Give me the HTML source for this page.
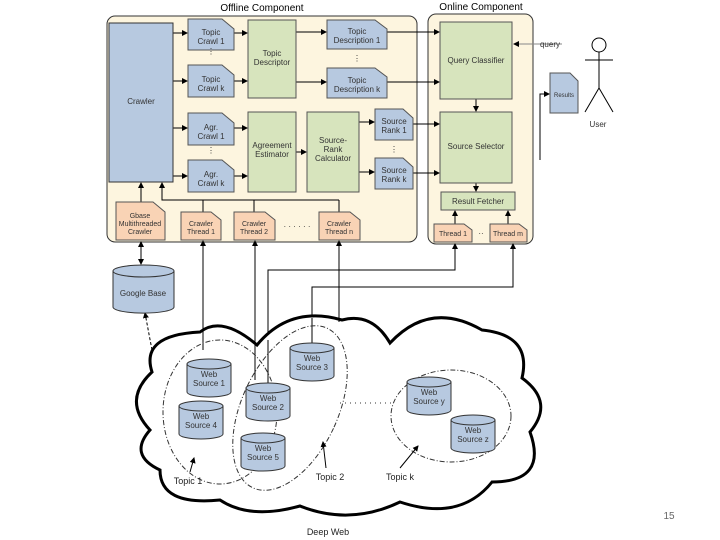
<!DOCTYPE html>
<html><head><meta charset="utf-8"><style>
body{margin:0;background:#fff}
svg{display:block;font-family:"Liberation Sans",sans-serif}
</style></head><body>
<svg width="720" height="540" viewBox="0 0 720 540" xmlns="http://www.w3.org/2000/svg">
<defs>
<marker id="a" markerWidth="6" markerHeight="6" refX="5" refY="3" orient="auto"><path d="M0,0 L6,3 L0,6z" fill="#000"/></marker>
<g id="cyl"><path d="M0,5 v28 a22,5 0 0 0 44,0 v-28" fill="#b7c9e0" stroke="#333"/><ellipse cx="22" cy="5" rx="22" ry="5" fill="#b7c9e0" stroke="#333"/></g>
</defs>
<text x="262" y="11" font-size="10" text-anchor="middle">Offline Component</text>
<rect x="107" y="16" width="310" height="226" rx="8" fill="#fdf5df" stroke="#333"/>
<text x="481" y="10" font-size="10" text-anchor="middle">Online Component</text>
<rect x="428" y="14" width="105" height="230" rx="8" fill="#fdf5df" stroke="#333"/>
<g stroke="#000" fill="none" marker-end="url(#a)">
<line x1="173" y1="33" x2="187" y2="33"/><line x1="173" y1="81" x2="187" y2="81"/>
<line x1="173" y1="128" x2="187" y2="128"/><line x1="173" y1="176" x2="187" y2="176"/>
<line x1="234" y1="33" x2="247" y2="33"/><line x1="234" y1="81" x2="247" y2="81"/>
<line x1="234" y1="128" x2="247" y2="128"/><line x1="234" y1="176" x2="247" y2="176"/>
<line x1="296" y1="32" x2="326" y2="32"/><line x1="296" y1="82" x2="326" y2="82"/>
<line x1="296" y1="152" x2="306" y2="152"/>
<line x1="359" y1="122" x2="374" y2="122"/><line x1="359" y1="172" x2="374" y2="172"/>
<line x1="387" y1="32" x2="439" y2="32"/><line x1="387" y1="82" x2="439" y2="82"/>
<line x1="413" y1="124" x2="439" y2="124"/><line x1="413" y1="173" x2="439" y2="173"/>
<line x1="476" y1="99" x2="476" y2="111"/><line x1="476" y1="183" x2="476" y2="191"/>
<line x1="455" y1="224" x2="455" y2="211"/><line x1="508" y1="224" x2="508" y2="211"/>
<line x1="141" y1="202" x2="141" y2="183"/>
<line x1="339" y1="212" x2="339" y2="200" marker-end="none"/>
<polyline points="339,200 162,200 162,183"/>
<line x1="203" y1="212" x2="203" y2="200" marker-end="none"/><line x1="254" y1="212" x2="254" y2="200" marker-end="none"/>
<line x1="562" y1="44" x2="514" y2="44" stroke="#888"/>
<polyline points="540,160 540,94 549,94"/>
<line x1="203" y1="323" x2="203" y2="241"/><line x1="255" y1="332" x2="255" y2="241"/>
<line x1="339" y1="318" x2="339" y2="241"/>
<polyline points="268,382 268,270 455,270 455,244"/>
<polyline points="312,343 312,287 513,287 513,244"/>
<line x1="141" y1="264" x2="141" y2="242"/><line x1="141" y1="242" x2="141" y2="264"/>
<line x1="152" y1="350" x2="145" y2="313" stroke-dasharray="3,2"/>
</g>
<rect x="109" y="23" width="64" height="159" fill="#b7c9e0" stroke="#333"/>
<text x="141" y="104" font-size="8" text-anchor="middle" fill="#333">Crawler</text>
<g font-size="8" text-anchor="middle" fill="#333" stroke="#555">
<path d="M188,19 h34 l12,10 v21 h-46z" fill="#b7c9e0"/><path d="M188,65 h34 l12,10 v22 h-46z" fill="#b7c9e0"/>
<path d="M188,113 h34 l12,10 v22 h-46z" fill="#b7c9e0"/><path d="M188,160 h34 l12,10 v22 h-46z" fill="#b7c9e0"/>
<path d="M327,20 h48 l12,9 v20 h-60z" fill="#b7c9e0"/><path d="M327,68 h48 l12,9 v21 h-60z" fill="#b7c9e0"/>
<path d="M375,109 h28 l10,9 v22 h-38z" fill="#b7c9e0"/><path d="M375,158 h28 l10,9 v22 h-38z" fill="#b7c9e0"/>
<path d="M550,73 h20 l8,8 v32 h-28z" fill="#b7c9e0"/>
<path d="M116,202 h37 l12,10 v28 h-49z" fill="#f9d3b5"/>
<path d="M181,212 h30 l10,8 v20 h-40z" fill="#f9d3b5"/><path d="M234,212 h31 l10,8 v20 h-41z" fill="#f9d3b5"/>
<path d="M319,212 h31 l10,8 v20 h-41z" fill="#f9d3b5"/>
<path d="M434,224 h30 l8,6 v12 h-38z" fill="#f9d3b5"/><path d="M490,224 h29 l8,6 v12 h-37z" fill="#f9d3b5"/>
<rect x="248" y="20" width="48" height="78" fill="#d7e4bd"/><rect x="248" y="112" width="48" height="80" fill="#d7e4bd"/>
<rect x="307" y="112" width="52" height="80" fill="#d7e4bd"/>
<rect x="440" y="22" width="72" height="77" fill="#d7e4bd"/><rect x="440" y="112" width="72" height="71" fill="#d7e4bd"/>
<rect x="441" y="192" width="74" height="18" fill="#d7e4bd"/>
</g>
<g font-size="8" text-anchor="middle" fill="#333">
<text x="211" y="35">Topic<tspan x="211" dy="9">Crawl 1</tspan></text>
<text x="211" y="82">Topic<tspan x="211" dy="9">Crawl k</tspan></text>
<text x="211" y="130">Agr.<tspan x="211" dy="9">Crawl 1</tspan></text>
<text x="211" y="177">Agr.<tspan x="211" dy="9">Crawl k</tspan></text>
<text x="357" y="34">Topic<tspan x="357" dy="9">Description 1</tspan></text>
<text x="357" y="83">Topic<tspan x="357" dy="9">Description k</tspan></text>
<text x="394" y="124">Source<tspan x="394" dy="9">Rank 1</tspan></text>
<text x="394" y="173">Source<tspan x="394" dy="9">Rank k</tspan></text>
<text x="272" y="56">Topic<tspan x="272" dy="9">Descriptor</tspan></text>
<text x="272" y="148">Agreement<tspan x="272" dy="9">Estimator</tspan></text>
<text x="333" y="143">Source-<tspan x="333" dy="9">Rank</tspan><tspan x="333" dy="9">Calculator</tspan></text>
<text x="476" y="63">Query Classifier</text><text x="476" y="149">Source Selector</text>
<text x="478" y="204">Result Fetcher</text>
<text x="453" y="236" font-size="7">Thread 1</text><text x="508" y="236" font-size="7">Thread m</text>
<text x="564" y="97" font-size="6">Results</text>
<text x="140" y="218" font-size="7">Gbase<tspan x="140" dy="8">Multithreaded</tspan><tspan x="140" dy="8">Crawler</tspan></text>
<text x="201" y="226" font-size="7">Crawler<tspan x="201" dy="8">Thread 1</tspan></text>
<text x="254" y="226" font-size="7">Crawler<tspan x="254" dy="8">Thread 2</tspan></text>
<text x="339" y="226" font-size="7">Crawler<tspan x="339" dy="8">Thread n</tspan></text>
<text x="550" y="47">query</text><text x="598" y="127">User</text>
<text x="211" y="54">⋮</text><text x="211" y="153">⋮</text><text x="357" y="61">⋮</text><text x="394" y="152">⋮</text>
<text x="297" y="229">· · · · · ·</text><text x="481" y="236">··</text>
</g>
<g stroke="#000" fill="none"><circle cx="599" cy="45" r="7"/><line x1="599" y1="52" x2="599" y2="88"/><line x1="585" y1="60" x2="613" y2="60"/><polyline points="585,112 599,88 613,112"/></g>
<path d="M113,271 v36 a30,6 0 0 0 61,0 v-36" fill="#b7c9e0" stroke="#333"/><ellipse cx="143.5" cy="271" rx="30.5" ry="6" fill="#b7c9e0" stroke="#333"/>
<text x="143" y="296" font-size="8" text-anchor="middle" fill="#333">Google Base</text>
<!-- cloud -->
<path d="M152,372 Q140,335 200,332 Q222,315 257,345 Q290,305 342,320 Q372,312 390,343 Q430,300 482,330 Q532,335 522,378 Q555,402 530,432 Q548,482 492,482 Q460,522 400,502 Q350,526 300,506 Q250,520 220,500 Q160,506 160,470 Q128,455 150,430 Q122,400 152,372 Z" fill="#fff" stroke="#000" stroke-width="3"/>
<g stroke="#000"><line x1="255" y1="332" x2="255" y2="380"/><line x1="268" y1="340" x2="268" y2="384"/><line x1="312" y1="318" x2="312" y2="345"/><line x1="203" y1="323" x2="203" y2="350"/><line x1="339" y1="318" x2="339" y2="322"/></g>
<g fill="none" stroke="#333" stroke-dasharray="5,2,1,2">
<ellipse cx="220" cy="412" rx="57" ry="72"/>
<ellipse cx="290" cy="408" rx="48" ry="88" transform="rotate(25 290 408)"/>
<ellipse cx="451" cy="416" rx="60" ry="46"/>
</g>
<line x1="340" y1="403" x2="392" y2="403" stroke="#333" stroke-dasharray="1,4"/>
<g stroke="#000" marker-end="url(#a)"><line x1="190" y1="472" x2="194" y2="458"/><line x1="326" y1="468" x2="323" y2="442"/><line x1="400" y1="468" x2="418" y2="446"/></g>
<use href="#cyl" x="187" y="359"/><use href="#cyl" x="179" y="401"/><use href="#cyl" x="246" y="383"/><use href="#cyl" x="290" y="343"/><use href="#cyl" x="241" y="433"/><use href="#cyl" x="407" y="377"/><use href="#cyl" x="451" y="415"/>
<g font-size="8" text-anchor="middle" fill="#333">
<text x="209" y="377">Web<tspan x="209" dy="9">Source 1</tspan></text>
<text x="201" y="419">Web<tspan x="201" dy="9">Source 4</tspan></text>
<text x="268" y="401">Web<tspan x="268" dy="9">Source 2</tspan></text>
<text x="312" y="361">Web<tspan x="312" dy="9">Source 3</tspan></text>
<text x="263" y="451">Web<tspan x="263" dy="9">Source 5</tspan></text>
<text x="429" y="395">Web<tspan x="429" dy="9">Source y</tspan></text>
<text x="473" y="433">Web<tspan x="473" dy="9">Source z</tspan></text>
</g>
<g font-size="9" fill="#222" text-anchor="middle">
<text x="188" y="484">Topic 1</text><text x="330" y="480">Topic 2</text><text x="400" y="480">Topic k</text>
<text x="328" y="535">Deep Web</text>
</g>
<text x="669" y="519" font-size="10" fill="#666" text-anchor="middle">15</text>
</svg>
</body></html>
